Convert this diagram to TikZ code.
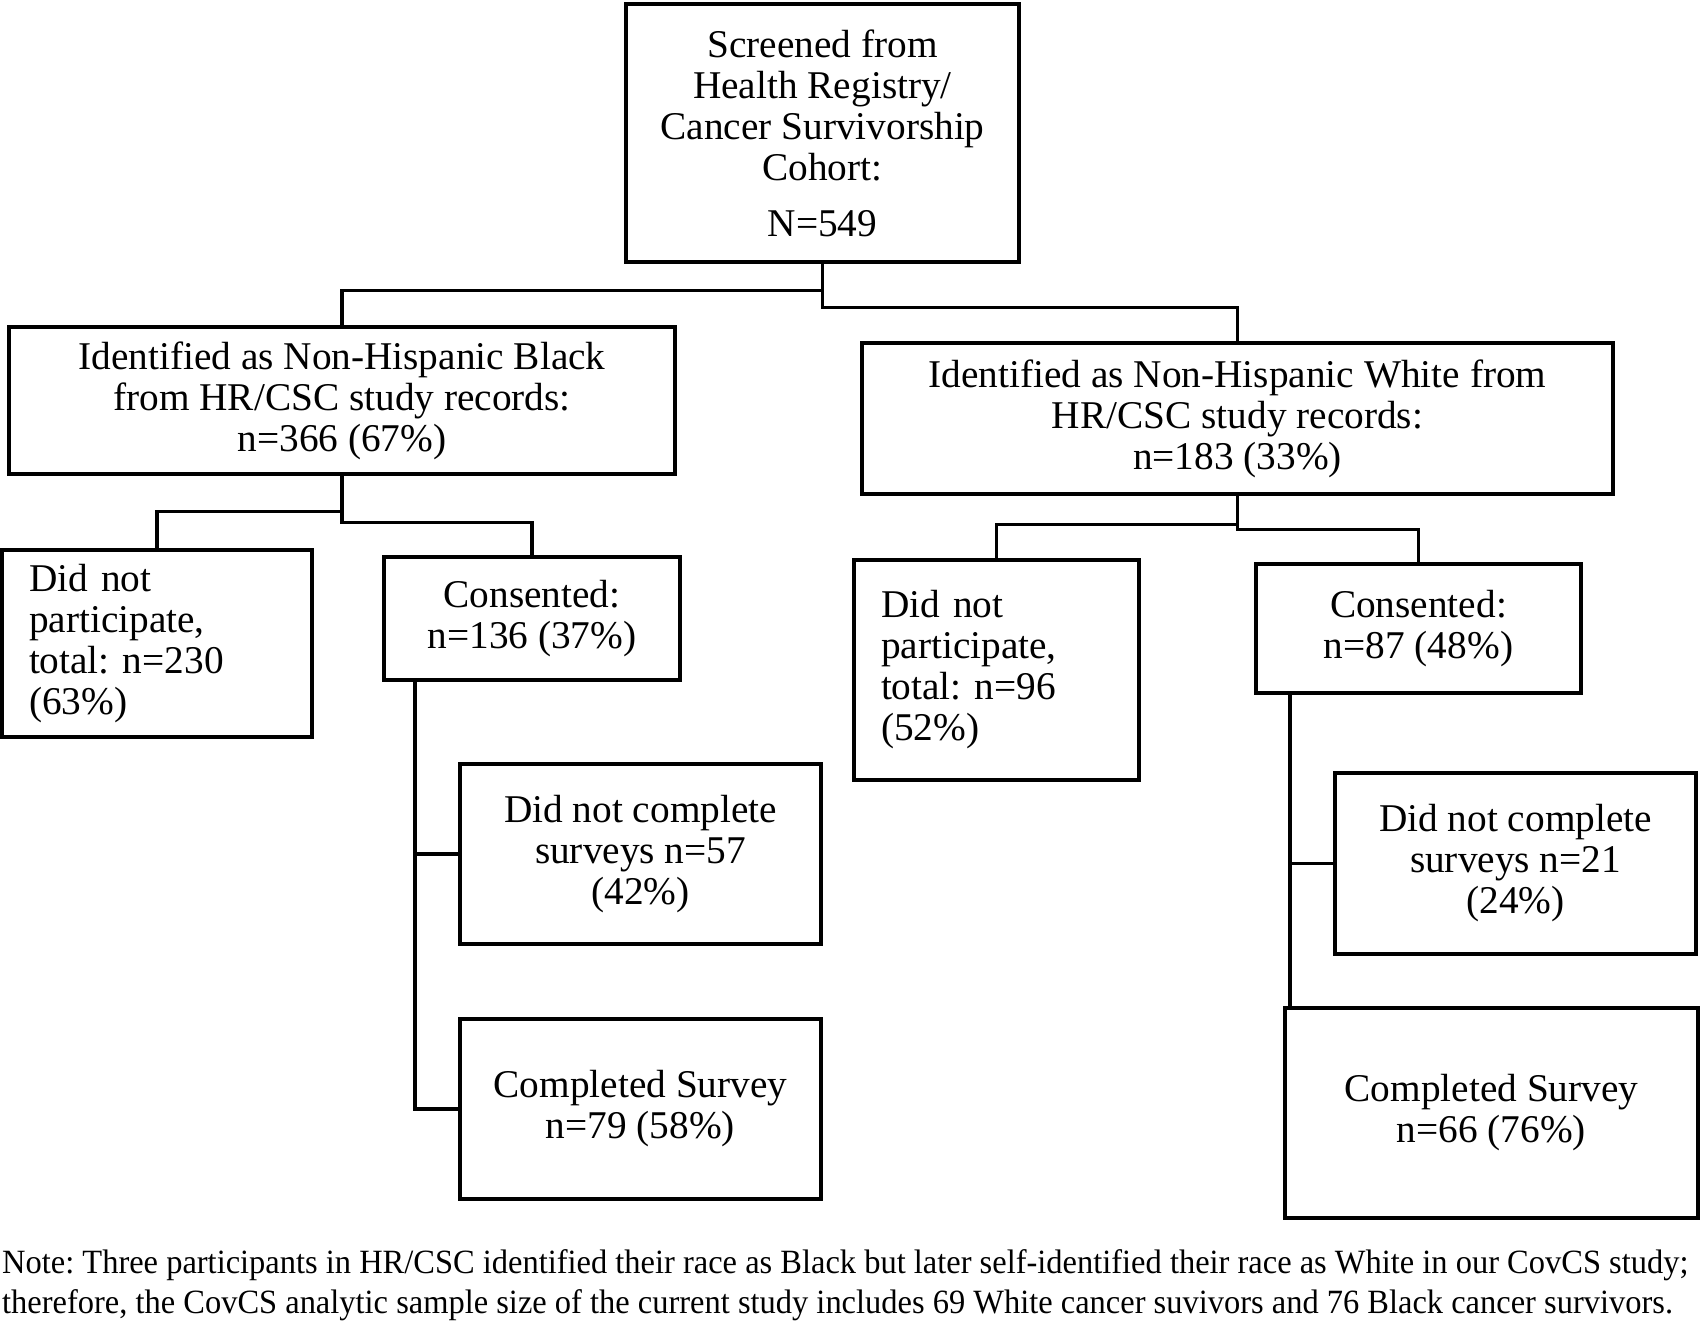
\documentclass[tikz,border=0pt]{standalone}
\usepackage{fontspec}
\setmainfont{Liberation Serif}
\newfontfamily\notefont[FakeStretch=0.955]{Liberation Serif}
\frenchspacing
\begin{document}
\begin{tikzpicture}[x=1pt,y=-1pt,
    box/.style={draw, line width=3.5pt, align=center, inner sep=0pt,
      font=\fontsize{39.3}{41}\selectfont},
    leftbox/.style={box, align=left, inner xsep=27pt}]
  \useasboundingbox (0,0) rectangle (1701,1322);
  \node[box, minimum width=393pt, minimum height=258pt] (top) at (822.5,133)
    {Screened from\\Health Registry/\\Cancer Survivorship\\Cohort:\\[15pt]N=549};
  \node[box, minimum width=666pt, minimum height=147pt] (black) at (342,400.5)
    {Identified as Non-Hispanic Black\\from HR/CSC study records:\\n=366 (67\%)};
  \node[box, minimum width=751pt, minimum height=151pt] (white) at (1237.5,418.5)
    {Identified as Non-Hispanic White from\\HR/CSC study records:\\n=183 (33\%)};
  \node[leftbox, text width=256pt, minimum height=187pt] (bnp) at (157,643.5)
    {Did not\\participate,\\total: n=230\\(63\%)};
  \node[box, minimum width=296pt, minimum height=123pt] (bcons) at (532,618.5)
    {Consented:\\n=136 (37\%)};
  \node[box, minimum width=361pt, minimum height=180pt] (bdnc) at (640.5,854)
    {Did not complete\\surveys n=57\\(42\%)};
  \node[box, minimum width=361pt, minimum height=180pt] (bcomp) at (640.5,1109)
    {Completed Survey\\n=79 (58\%)};
  \node[leftbox, text width=231pt, minimum height=220pt] (wnp) at (996.5,670)
    {Did not\\participate,\\total: n=96\\(52\%)};
  \node[box, minimum width=325pt, minimum height=129pt] (wcons) at (1418.5,628.5)
    {Consented:\\n=87 (48\%)};
  \node[box, minimum width=361pt, minimum height=181pt] (wdnc) at (1515.5,863.5)
    {Did not complete\\surveys n=21\\(24\%)};
  \node[box, minimum width=413pt, minimum height=210pt] (wcomp) at (1491.5,1113)
    {Completed Survey\\n=66 (76\%)};
  \coordinate (bspine) at (415,680);
  \coordinate (wspine) at (1290,693);
  \node[anchor=west, inner sep=0pt, align=left,
    font=\notefont\fontsize{34}{40}\selectfont] (note) at (2,1285)
    {Note: Three participants in HR/CSC identified their race as Black but later self-identified their race as White in our CovCS study;\\
     therefore, the CovCS analytic sample size of the current study includes 69 White cancer suvivors and 76 Black cancer survivors.};
  \begin{scope}[line width=3.2pt]
    \draw (top.south) -- ++(0,27) -| (black.north);
    \draw (top.south) -- ++(0,44) -| (white.north);
    \draw (black.south) -- ++(0,36) -| (bnp.north);
    \draw (black.south) -- ++(0,47) -| (bcons.north);
    \draw (white.south) -- ++(0,29) -| (wnp.north);
    \draw (white.south) -- ++(0,34) -| (wcons.north);
    \draw (bspine) |- (bdnc.west);
    \draw (bspine) |- (bcomp.west);
    \draw (wspine) |- (wdnc.west);
    \draw (wspine) -- (wspine |- wcomp.north);
  \end{scope}
\end{tikzpicture}
\end{document}
